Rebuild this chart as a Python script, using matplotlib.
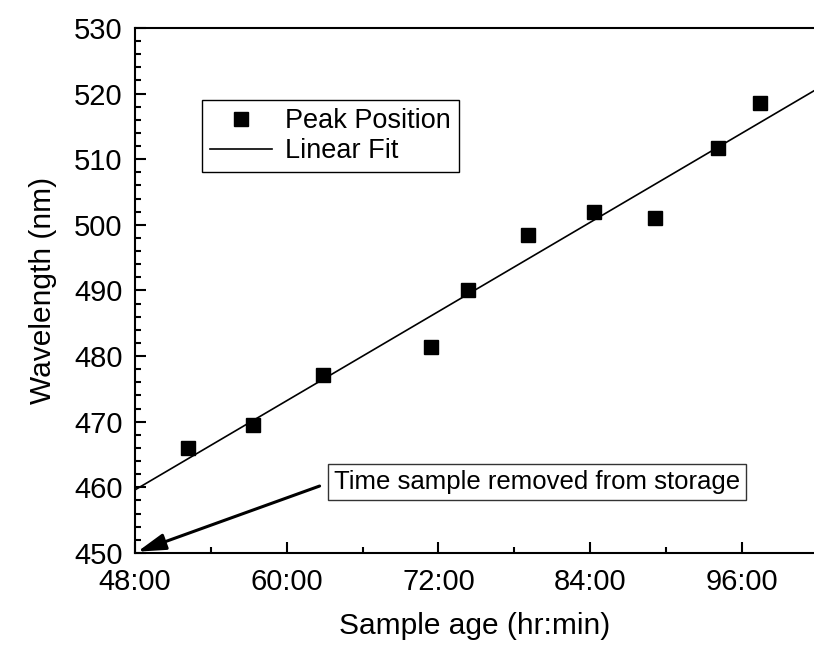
import numpy as np
import matplotlib
matplotlib.use("Agg")
import matplotlib.pyplot as plt
from matplotlib.ticker import MultipleLocator, FuncFormatter

plt.rcParams['font.family'] = ['Liberation Sans', 'DejaVu Sans']

# peak position vs sample age (hours)
hours = [52.2, 57.3, 62.9, 71.4, 74.3, 79.1, 84.3, 89.1, 94.1, 97.4]
peak_nm = [466.0, 469.5, 477.1, 481.4, 490.0, 498.5, 501.9, 501.0, 511.7, 518.5]

x_min, x_max = 48, 101.7
y_min, y_max = 450, 530

slope, icpt = np.polyfit(hours, peak_nm, 1)
fit_x = np.array([x_min, x_max])
fit_y = slope * fit_x + icpt

fig = plt.figure(figsize=(8.14, 6.46), dpi=100)
ax = fig.add_axes([0.1658, 0.144, 0.8342, 0.8127])

ax.plot(hours, peak_nm, 's', color='black', markersize=10, label='Peak Position', zorder=3)
ax.plot(fit_x, fit_y, '-', color='black', lw=1.2, label='Linear Fit')

ax.set_xlim(x_min, x_max)
ax.set_ylim(y_min, y_max)

ax.xaxis.set_major_locator(MultipleLocator(12))
ax.xaxis.set_minor_locator(MultipleLocator(6))
ax.xaxis.set_major_formatter(FuncFormatter(lambda v, p: f"{int(round(v))}:00"))
ax.yaxis.set_major_locator(MultipleLocator(10))
ax.yaxis.set_minor_locator(MultipleLocator(2))

ax.tick_params(which='both', direction='in', width=1.5, labelsize=21,
               top=False, right=False)
ax.tick_params(axis='x', pad=11)
ax.tick_params(axis='y', pad=9)
ax.tick_params(which='major', length=8)
ax.tick_params(which='minor', length=4)

for side in ['left', 'bottom', 'top']:
    ax.spines[side].set_linewidth(1.5)
ax.spines['right'].set_visible(False)

ax.set_xlabel('Sample age (hr:min)', fontsize=21.5, labelpad=11)
ax.set_ylabel('Wavelength (nm)', fontsize=21.5, labelpad=12)

leg = ax.legend(loc='upper left', bbox_to_anchor=(0.098, 0.863), borderaxespad=0,
                fontsize=19.5, fancybox=False, framealpha=1, edgecolor='black',
                handlelength=2.3, handletextpad=0.5, labelspacing=0.15,
                borderpad=0.3, numpoints=1)
leg.get_frame().set_linewidth(1.0)

# note about removal time
ax.annotate('', xy=(48.2, 450.2), xytext=(62.6, 460.2),
            arrowprops=dict(arrowstyle='-|>,head_length=0.85,head_width=0.25',
                            mutation_scale=20, lw=2.2, color='black',
                            shrinkA=0, shrinkB=0))
ax.text(79.8, 460.8, 'Time sample removed from storage', ha='center', va='center',
        fontsize=18.5,
        bbox=dict(boxstyle='square,pad=0.22', fc='white', ec='#333333', lw=1.0))

fig.savefig('out.png', dpi=100)
